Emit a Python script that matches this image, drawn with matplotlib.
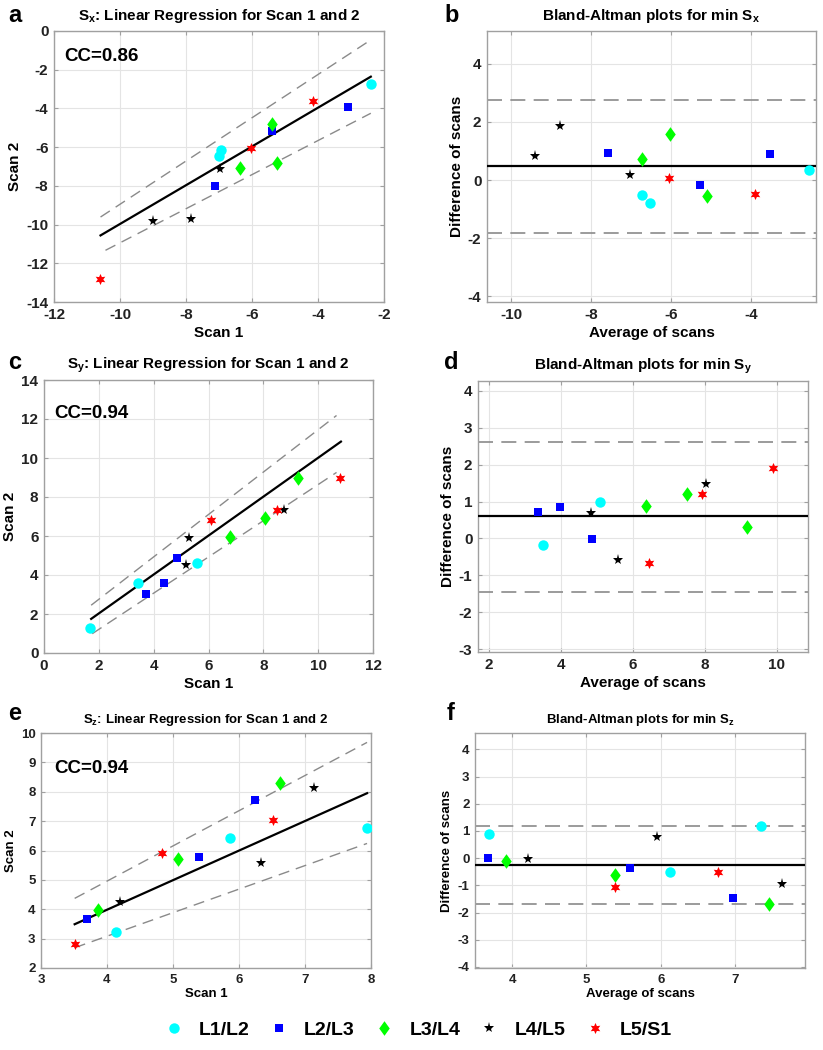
import matplotlib
matplotlib.use("Agg")
import matplotlib.pyplot as plt
from matplotlib.lines import Line2D

plt.rcParams["font.family"] = ["Liberation Sans", "DejaVu Sans"]
plt.rcParams["font.weight"] = "bold"
plt.rcParams["axes.unicode_minus"] = False
plt.rcParams["mathtext.default"] = "bf"
plt.rcParams["mathtext.fontset"] = "custom"
plt.rcParams["mathtext.bf"] = "Liberation Sans:bold"

# level groups (marker / colour per spinal level)
GROUPS = ["L1/L2", "L2/L3", "L3/L4", "L4/L5", "L5/S1"]
COLORS = ["#00ffff", "#0000ff", "#00ff00", "#000000", "#ff0000"]
DIAMOND = [(0, 1), (0.72, 0), (0, -1), (-0.72, 0), (0, 1)]
MARKERS = ["o", "s", DIAMOND, "*", (6, 1, 0)]
MSIZE = [7.5, 6, 10.5, 8, 8]

# ---- panel a: Sx regression
A_X = [-2.38, -6.95, -7.01, -7.13, -5.38, -3.08, -5.38, -6.37, -5.24, -6.96, -9.00, -7.84, -10.60, -6.02, -4.15]
A_Y = [-2.73, -6.14, -6.45, -8.03, -5.16, -3.94, -4.80, -7.10, -6.83, -7.12, -9.80, -9.70, -12.81, -6.05, -3.61]
A_G = [0, 0, 0, 1, 1, 1, 2, 2, 2, 3, 3, 3, 4, 4, 4]
A_FIT_X = [-10.59, -2.40]
A_FIT_Y = [-10.56, -2.36]
A_UP_X, A_UP_Y = [-10.59, -2.40], [-9.61, -0.46]
A_LO_X, A_LO_Y = [-10.44, -2.40], [-11.33, -4.25]

# ---- panel b: Sx Bland-Altman
B_X = [-9.42, -8.79, -7.03, -7.59, -5.28, -3.51, -6.73, -6.02, -5.10, -6.72, -6.54, -2.54, -6.04, -3.89]
B_Y = [0.82, 1.87, 0.16, 0.92, -0.16, 0.89, 0.73, 1.59, -0.56, -0.50, -0.79, 0.36, 0.06, -0.47]
B_G = [3, 3, 3, 1, 1, 1, 2, 2, 2, 0, 0, 0, 4, 4]
B_MEAN, B_UP, B_LO = 0.48, 2.77, -1.83

# ---- panel c: Sy regression
C_X = [1.69, 3.43, 5.57, 3.73, 4.38, 4.85, 6.78, 8.07, 9.27, 5.29, 5.17, 8.76, 6.10, 8.50, 10.81]
C_Y = [1.30, 3.60, 4.61, 3.04, 3.58, 4.89, 5.93, 6.91, 9.00, 5.92, 4.51, 7.31, 6.83, 7.34, 8.97]
C_G = [0, 0, 0, 1, 1, 1, 2, 2, 2, 3, 3, 3, 4, 4, 4]
C_FIT_X = [1.72, 10.83]
C_FIT_Y = [1.75, 10.84]
C_UP_X, C_UP_Y = [1.72, 10.67], [2.45, 12.18]
C_LO_X, C_LO_Y = [1.76, 10.67], [0.99, 9.26]

# ---- panel d: Sy Bland-Altman
D_X = [3.38, 3.98, 4.86, 3.52, 5.08, 4.83, 5.60, 8.04, 6.37, 7.50, 9.17, 6.46, 7.93, 9.90]
D_Y = [0.71, 0.84, -0.02, -0.17, 1.00, 0.69, -0.59, 1.47, 0.88, 1.20, 0.30, -0.66, 1.20, 1.90]
D_G = [1, 1, 1, 0, 0, 3, 3, 3, 2, 2, 2, 4, 4, 4]
D_MEAN, D_UP, D_LO = 0.61, 2.61, -1.44

# ---- panel e: Sz regression
E_X = [4.14, 5.86, 7.94, 3.70, 5.40, 6.24, 3.87, 5.07, 6.62, 4.19, 6.34, 7.14, 3.51, 4.84, 6.51]
E_Y = [3.24, 6.41, 6.78, 3.67, 5.78, 7.71, 3.99, 5.72, 8.30, 4.26, 5.58, 8.13, 2.81, 5.92, 7.03]
E_G = [0, 0, 0, 1, 1, 1, 2, 2, 2, 3, 3, 3, 4, 4, 4]
E_FIT_X = [3.51, 7.94]
E_FIT_Y = [3.49, 7.95]
E_UP_X, E_UP_Y = [3.51, 7.94], [4.37, 9.68]
E_LO_X, E_LO_Y = [3.51, 7.94], [2.69, 6.24]

# ---- panel f: Sz Bland-Altman
F_X = [3.69, 6.13, 7.35, 3.68, 5.58, 6.97, 3.92, 5.39, 7.45, 4.21, 5.95, 7.63, 5.38, 6.77]
F_Y = [0.89, -0.51, 1.19, 0.02, -0.36, -1.45, -0.11, -0.63, -1.68, -0.04, 0.78, -0.96, -1.07, -0.50]
F_G = [0, 0, 0, 1, 1, 1, 2, 2, 2, 3, 3, 3, 4, 4]
F_MEAN, F_UP, F_LO = -0.26, 1.19, -1.68

W, H = 823, 1050
fig = plt.figure(figsize=(W / 100, H / 100), dpi=100)


def add_ax(x0, y0, x1, y1):
    return fig.add_axes([x0 / W, 1 - y1 / H, (x1 - x0) / W, (y1 - y0) / H])


def style(ax, tick_fs):
    ax.grid(True, color="#e4e4e4", linewidth=0.8)
    ax.set_axisbelow(True)
    for s in ax.spines.values():
        s.set_color("#a0a0a0")
        s.set_linewidth(1.0)
    ax.tick_params(direction="in", length=3, color="#a0a0a0", top=True, right=True,
                   labelsize=tick_fs, labelcolor="#222222", pad=4)
    for lab in ax.get_xticklabels() + ax.get_yticklabels():
        lab.set_fontweight("bold")


def draw_points(ax, xs, ys, gs):
    for x, y, g in zip(xs, ys, gs):
        ax.plot(x, y, linestyle="none", marker=MARKERS[g], color=COLORS[g],
                markersize=MSIZE[g], markeredgewidth=0, clip_on=True, zorder=4)


def regression(ax, xs, ys, gs, fx, fy, ux, uy, lx, ly):
    ax.plot(ux, uy, color="#8a8a8a", lw=1.0, dashes=(8, 5), zorder=2)
    ax.plot(lx, ly, color="#8a8a8a", lw=1.0, dashes=(8, 5), zorder=2)
    ax.plot(fx, fy, color="black", lw=1.6, zorder=3)
    draw_points(ax, xs, ys, gs)


def bland(ax, xs, ys, gs, mean, up, lo):
    ax.axhline(up, color="#8a8a8a", lw=1.2, dashes=(9, 5), zorder=2)
    ax.axhline(lo, color="#8a8a8a", lw=1.2, dashes=(9, 5), zorder=2)
    ax.axhline(mean, color="black", lw=1.6, zorder=3)
    draw_points(ax, xs, ys, gs)


# ---- a
ax = add_ax(54, 31, 384, 302)
regression(ax, A_X, A_Y, A_G, A_FIT_X, A_FIT_Y, A_UP_X, A_UP_Y, A_LO_X, A_LO_Y)
ax.set_xlim(-12, -2)
ax.set_ylim(-14, 0)
ax.set_xticks(range(-12, -1, 2))
ax.set_yticks(range(-14, 1, 2))
style(ax, 11)
ax.set_title("S$_x$: Linear Regression for Scan 1 and 2", fontsize=11, fontweight="bold", pad=8)
ax.set_xlabel("Scan 1", fontsize=11, fontweight="bold", labelpad=3)
ax.set_ylabel("Scan 2", fontsize=11, fontweight="bold", labelpad=3)
ax.text(0.03, 0.89, "CC=0.86", transform=ax.transAxes, fontsize=13.5, fontweight="bold")

# ---- b
ax = add_ax(487, 31, 816, 302)
bland(ax, B_X, B_Y, B_G, B_MEAN, B_UP, B_LO)
ax.set_xlim(-10.61, -2.37)
ax.set_ylim(-4.2, 5.13)
ax.set_xticks([-10, -8, -6, -4])
ax.set_yticks([-4, -2, 0, 2, 4])
style(ax, 11)
ax.set_title("Bland-Altman plots for min S$_x$", fontsize=11, fontweight="bold", pad=8)
ax.set_xlabel("Average of scans", fontsize=11, fontweight="bold", labelpad=3)
ax.set_ylabel("Difference of scans", fontsize=11, fontweight="bold", labelpad=3)

# ---- c
ax = add_ax(44, 380, 373, 653)
regression(ax, C_X, C_Y, C_G, C_FIT_X, C_FIT_Y, C_UP_X, C_UP_Y, C_LO_X, C_LO_Y)
ax.set_xlim(0, 12)
ax.set_ylim(0, 14)
ax.set_xticks(range(0, 13, 2))
ax.set_yticks(range(0, 15, 2))
style(ax, 11)
ax.set_title("S$_y$: Linear Regression for Scan 1 and 2", fontsize=11, fontweight="bold", pad=8)
ax.set_xlabel("Scan 1", fontsize=11, fontweight="bold", labelpad=3)
ax.set_ylabel("Scan 2", fontsize=11, fontweight="bold", labelpad=3)
ax.text(0.03, 0.86, "CC=0.94", transform=ax.transAxes, fontsize=13.5, fontweight="bold")

# ---- d
ax = add_ax(478, 381, 808, 652)
bland(ax, D_X, D_Y, D_G, D_MEAN, D_UP, D_LO)
ax.set_xlim(1.70, 10.87)
ax.set_ylim(-3.08, 4.27)
ax.set_xticks([2, 4, 6, 8, 10])
ax.set_yticks(range(-3, 5))
style(ax, 11)
ax.set_title("Bland-Altman plots for min S$_y$", fontsize=11, fontweight="bold", pad=8)
ax.set_xlabel("Average of scans", fontsize=11, fontweight="bold", labelpad=3)
ax.set_ylabel("Difference of scans", fontsize=11, fontweight="bold", labelpad=3)

# ---- e
ax = add_ax(41, 733, 371, 968)
regression(ax, E_X, E_Y, E_G, E_FIT_X, E_FIT_Y, E_UP_X, E_UP_Y, E_LO_X, E_LO_Y)
ax.set_xlim(3, 8)
ax.set_ylim(2, 10)
ax.set_xticks(range(3, 9))
ax.set_yticks(range(2, 11))
style(ax, 9.5)
ax.set_title("S$_z$: Linear Regression for Scan 1 and 2", fontsize=9.5, fontweight="bold", pad=7)
ax.set_xlabel("Scan 1", fontsize=9.5, fontweight="bold", labelpad=2)
ax.set_ylabel("Scan 2", fontsize=9.5, fontweight="bold", labelpad=3)
ax.text(0.04, 0.83, "CC=0.94", transform=ax.transAxes, fontsize=13.5, fontweight="bold")

# ---- f
ax = add_ax(475, 733, 805, 968)
bland(ax, F_X, F_Y, F_G, F_MEAN, F_UP, F_LO)
ax.set_xlim(3.50, 7.94)
ax.set_ylim(-4.04, 4.6)
ax.set_xticks([4, 5, 6, 7])
ax.set_yticks(range(-4, 5))
style(ax, 9.5)
ax.set_title("Bland-Altman plots for min S$_z$", fontsize=9.5, fontweight="bold", pad=7)
ax.set_xlabel("Average of scans", fontsize=9.5, fontweight="bold", labelpad=2)
ax.set_ylabel("Difference of scans", fontsize=9.5, fontweight="bold", labelpad=3)

# panel letters
for lab, px, py in [("a", 15, 15), ("b", 452, 15), ("c", 15, 363),
                    ("d", 451, 363), ("e", 15, 714), ("f", 451, 714)]:
    fig.text(px / W, 1 - py / H, lab, fontsize=17, fontweight="bold",
             ha="center", va="center")

# shared legend
handles = [Line2D([], [], linestyle="none", marker=m, color=c, markersize=s, markeredgewidth=0)
           for m, c, s in zip(MARKERS, COLORS, MSIZE)]
fig.legend(handles, GROUPS, loc="center", bbox_to_anchor=(0.508, 1 - 1030 / H), ncol=5,
           frameon=False, handlelength=1.0, handletextpad=0.8, columnspacing=1.0,
           prop={"weight": "bold", "size": 14})

fig.savefig("out.png", dpi=100)
